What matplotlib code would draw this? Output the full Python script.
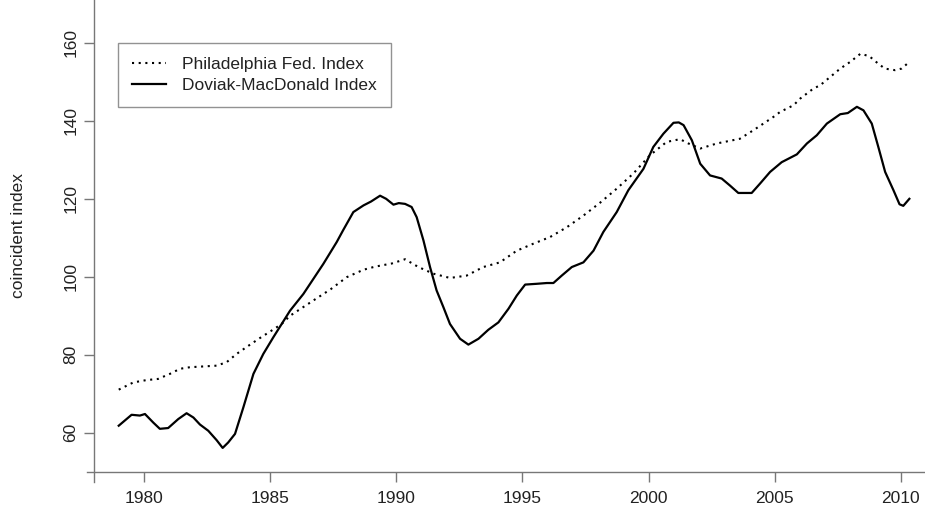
import matplotlib
matplotlib.use("Agg")
import matplotlib.pyplot as plt

plt.rcParams['font.family'] = ['Liberation Sans', 'DejaVu Sans']

# Philadelphia Fed coincident index
phil_t = [1979.0, 1979.58, 1980.1, 1980.56, 1981.03, 1981.43, 1981.82, 1982.35, 1982.88,
          1983.28, 1983.67, 1984.14, 1984.6, 1985.06, 1985.46, 1985.79, 1986.71, 1987.4,
          1988.04, 1988.7, 1989.16, 1989.82, 1990.35, 1990.88, 1991.47, 1992.13, 1992.79,
          1993.45, 1994.11, 1994.78, 1995.44, 1996.1, 1996.76, 1997.42, 1998.08, 1998.74,
          1999.4, 2000.06, 2000.72, 2001.25, 2001.58, 2002.05, 2002.71, 2003.62, 2004.16,
          2004.95, 2005.22, 2005.75, 2006.01, 2006.54, 2006.8, 2007.6, 2007.99, 2008.4,
          2008.75, 2009.1, 2009.37, 2009.77, 2010.03, 2010.3]
phil_v = [71.05, 72.9, 73.5, 73.8, 75.1, 76.4, 76.8, 77.0, 77.2,
          78.1, 80.2, 82.3, 84.3, 86.2, 87.9, 90.0, 93.9, 96.8,
          99.9, 101.8, 102.6, 103.4, 104.5, 102.5, 100.8, 99.7, 100.3,
          102.5, 103.7, 106.7, 108.5, 110.2, 112.7, 115.7, 119.0, 122.6,
          126.5, 131.2, 134.6, 135.3, 134.2, 132.9, 134.2, 135.4, 137.6,
          141.0, 142.3, 144.0, 145.7, 148.3, 149.1, 153.4, 155.1, 157.2,
          156.6, 154.7, 153.4, 153.0, 153.4, 154.9]

# Doviak-MacDonald index
dm_t = [1979.0, 1979.51, 1979.84, 1980.04, 1980.37, 1980.63, 1980.96, 1981.36, 1981.69,
        1981.96, 1982.22, 1982.55, 1982.88, 1983.12, 1983.34, 1983.61, 1983.94, 1984.34,
        1984.73, 1985.13, 1985.46, 1985.79, 1986.32, 1987.11, 1987.64, 1987.9, 1988.3,
        1988.7, 1989.0, 1989.36, 1989.6, 1989.89, 1990.1, 1990.35, 1990.61, 1990.81,
        1991.08, 1991.34, 1991.6, 1991.87, 1992.13, 1992.53, 1992.86, 1993.26, 1993.65,
        1994.05, 1994.45, 1994.78, 1995.11, 1995.57, 1995.97, 1996.23, 1996.56, 1996.96,
        1997.42, 1997.82, 1998.21, 1998.74, 1999.2, 1999.8, 2000.19, 2000.59, 2000.99,
        2001.2, 2001.39, 2001.72, 2002.05, 2002.44, 2002.9, 2003.23, 2003.56, 2004.09,
        2004.42, 2004.82, 2005.28, 2005.88, 2006.28, 2006.67, 2007.07, 2007.6, 2007.9,
        2008.26, 2008.52, 2008.85, 2009.11, 2009.38, 2009.71, 2009.95, 2010.1, 2010.34]
dm_v = [61.8, 64.6, 64.4, 64.8, 62.6, 61.0, 61.2, 63.5, 65.0,
        63.9, 62.1, 60.5, 58.1, 56.1, 57.5, 59.7, 66.5, 75.1,
        80.2, 84.5, 87.9, 91.3, 95.6, 103.3, 108.9, 112.0, 116.6,
        118.3, 119.3, 120.8, 120.0, 118.5, 118.9, 118.7, 117.9, 115.3,
        109.3, 102.5, 96.5, 92.2, 87.9, 84.1, 82.6, 84.1, 86.4,
        88.3, 91.8, 95.2, 98.0, 98.2, 98.4, 98.4, 100.3, 102.5,
        103.7, 106.7, 111.5, 116.6, 122.2, 127.7, 133.3, 136.7, 139.5,
        139.6, 138.9, 135.0, 129.0, 126.0, 125.2, 123.4, 121.5, 121.5,
        123.9, 126.9, 129.4, 131.4, 134.2, 136.3, 139.3, 141.7, 142.0,
        143.6, 142.7, 139.3, 133.3, 126.9, 122.2, 118.6, 118.2, 120.0]

xticks = [1980, 1985, 1990, 1995, 2000, 2005, 2010]
yticks = [60, 80, 100, 120, 140, 160]

W, H = 925, 519
fig = plt.figure(figsize=(W / 100, H / 100), dpi=100)
ax = fig.add_axes([94 / W, (H - 471.7) / H, (W - 94) / W, 471.7 / H])

ax.plot(phil_t, phil_v, color='black', lw=1.5, linestyle=(0, (1, 2.2)),
        label='Philadelphia Fed. Index')
ax.plot(dm_t, dm_v, color='black', lw=1.6, label='Doviak-MacDonald Index')

ax.set_xlim(1978.02, 2010.96)
ax.set_ylim(50, 171)

axcol = '#777777'
for s in ax.spines.values():
    s.set_visible(False)
# axis lines, R style with a small overhang at the corner
ax.plot([-7 / 831, 1], [0, 0], transform=ax.transAxes, color=axcol, lw=1, clip_on=False)
ax.plot([0, 0], [-10 / 471.7, 1], transform=ax.transAxes, color=axcol, lw=1, clip_on=False)

ax.set_xticks(xticks)
ax.set_yticks(yticks)
ax.tick_params(axis='both', direction='out', length=7.2, width=1, color=axcol,
               labelsize=12.5, labelcolor='#222222')
ax.tick_params(axis='x', pad=6.5)
ax.tick_params(axis='y', pad=4)
for lab in ax.get_yticklabels():
    lab.set_rotation(90)
    lab.set_va('center')

ax.set_ylabel('coincident index', fontsize=12.5, color='#222222')
ax.yaxis.set_label_coords(-68 / 831, 0.5)

leg = ax.legend(loc='upper left', bbox_to_anchor=(24 / 831, 1 - 42.7 / 471.7),
                borderaxespad=0, fontsize=12.5, frameon=True, fancybox=False,
                handlelength=1.94, handletextpad=0.94, borderpad=0.81,
                labelspacing=0.32)
leg.get_frame().set_edgecolor(axcol)
leg.get_frame().set_linewidth(1)
for t in leg.get_texts():
    t.set_color('#222222')

fig.savefig('out.png', dpi=100)
